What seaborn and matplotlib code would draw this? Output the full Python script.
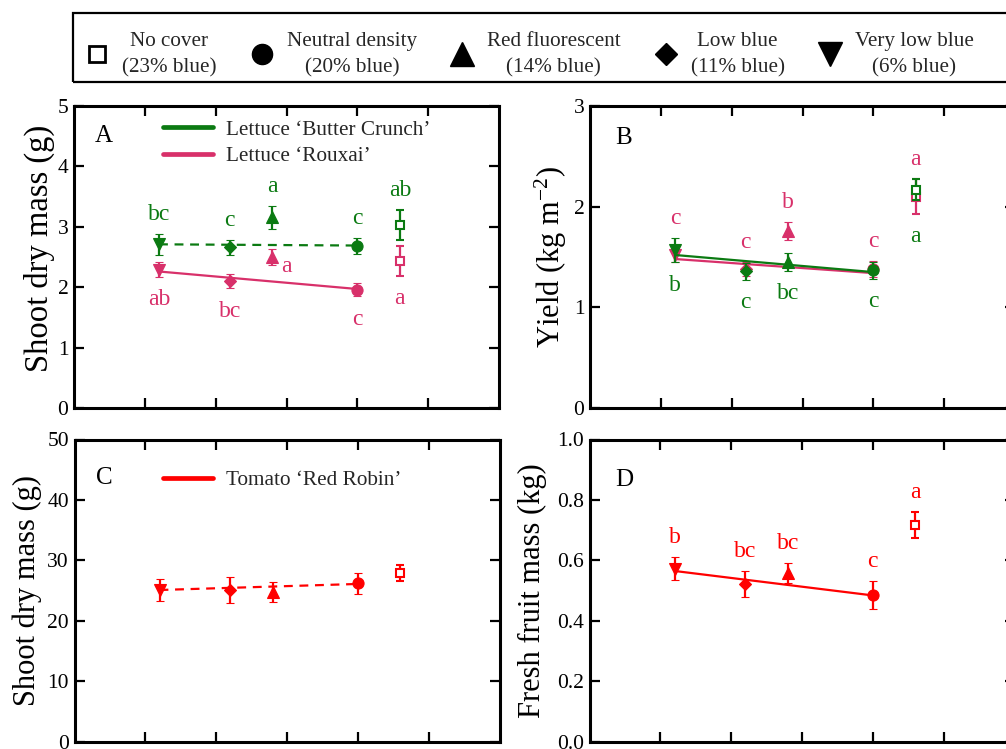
import matplotlib
matplotlib.use("Agg")
import matplotlib.pyplot as plt
from matplotlib.lines import Line2D
from matplotlib.patches import Rectangle
from matplotlib.ticker import FormatStrFormatter
import seaborn as sns

# Covers and the share of blue light they transmit (%)
treatments = ["No cover", "Neutral density", "Red fluorescent", "Low blue", "Very low blue"]
blue_share = [23, 20, 14, 11, 6]
blue_labels = ["(23% blue)", "(20% blue)", "(14% blue)", "(11% blue)", "(6% blue)"]

# A: lettuce shoot dry mass (g), mean, SE and mean-separation letters
butter_shoot = [3.03, 2.68, 3.16, 2.66, 2.71]
butter_shoot_se = [0.25, 0.13, 0.19, 0.12, 0.17]
butter_shoot_grp = ["ab", "c", "a", "c", "bc"]
rouxai_shoot = [2.44, 1.96, 2.50, 2.10, 2.29]
rouxai_shoot_se = [0.25, 0.11, 0.13, 0.12, 0.12]
rouxai_shoot_grp = ["a", "c", "a", "bc", "ab"]

# B: lettuce yield (kg m-2)
butter_yield = [2.17, 1.37, 1.45, 1.36, 1.57]
butter_yield_se = [0.105, 0.085, 0.085, 0.085, 0.12]
butter_yield_grp = ["a", "c", "bc", "c", "b"]
rouxai_yield = [2.10, 1.38, 1.76, 1.38, 1.52]
rouxai_yield_se = [0.17, 0.08, 0.09, 0.07, 0.07]
rouxai_yield_grp = ["a", "c", "b", "c", "c"]

# C: tomato shoot dry mass (g)
tomato_shoot = [27.9, 26.2, 24.8, 25.1, 25.1]
tomato_shoot_se = [1.3, 1.75, 1.7, 2.2, 1.75]

# D: tomato fresh fruit mass (kg)
tomato_fruit = [0.717, 0.485, 0.558, 0.522, 0.573]
tomato_fruit_se = [0.044, 0.047, 0.034, 0.042, 0.037]
tomato_fruit_grp = ["a", "c", "bc", "bc", "b"]

# Linear fits over the 6-20 % covers, evaluated at both ends of that span
fit_span = [6, 20]
butter_shoot_fit = [2.71, 2.69]
rouxai_shoot_fit = [2.26, 1.97]
butter_yield_fit = [1.52, 1.35]
rouxai_yield_fit = [1.48, 1.34]
tomato_shoot_fit = [25.1, 26.1]
tomato_fruit_fit = [0.565, 0.484]

# ---------------------------------------------------------------- style
sns.set_theme(style="ticks")
plt.rcParams["font.family"] = ["Liberation Serif", "DejaVu Serif"]
plt.rcParams["mathtext.fontset"] = "custom"
plt.rcParams["mathtext.rm"] = "Liberation Serif"
plt.rcParams["mathtext.it"] = "Liberation Serif:italic"

GREEN = "#0b7a12"
CRIMSON = "#d8306a"
RED = "#ff0000"

MARKER = {"No cover": "s", "Neutral density": "o", "Red fluorescent": "^",
          "Low blue": "D", "Very low blue": "v"}
MSIZE = {"No cover": 5.5, "Neutral density": 8, "Red fluorescent": 8.5,
         "Low blue": 6.2, "Very low blue": 8.5}
KEY_MSIZE = {"No cover": 11.5, "Neutral density": 14.5, "Red fluorescent": 17,
             "Low blue": 11.5, "Very low blue": 17}

W, H = 1006, 749
fig = plt.figure(figsize=(W / 100, H / 100), dpi=100)


def axes_px(left, top, right, bottom):
    return fig.add_axes([left / W, (H - bottom) / H, (right - left) / W, (bottom - top) / H])


def draw_series(ax, means, ses, color, fit, dashed, z):
    sns.lineplot(x=fit_span, y=fit, ax=ax, color=color, linewidth=1.6,
                 linestyle=(0, (4, 3)) if dashed else "-", zorder=z, legend=False)
    for name, x, m, s in zip(treatments, blue_share, means, ses):
        hollow = name == "No cover"
        ax.errorbar([x], [m], yerr=[s], fmt=MARKER[name], ms=MSIZE[name],
                    color=color, mfc="white" if hollow else color, mec=color,
                    mew=1.5 if hollow else 0.8, elinewidth=1.6, capsize=2.8,
                    capthick=1.6, zorder=z + 1)


def add_letters(ax, series):
    tops = [max(s["m"][i] + s["se"][i] for s in series) for i in range(len(blue_share))]
    lows = [min(s["m"][i] - s["se"][i] for s in series) for i in range(len(blue_share))]
    for s in series:
        for i, letter in enumerate(s["grp"]):
            side = s["side"][i]
            x = blue_share[i]
            if side == "above":
                ax.annotate(letter, (x, tops[i]), xytext=(0, 10), textcoords="offset points",
                            ha="center", va="baseline", color=s["c"], fontsize=17)
            elif side == "below":
                ax.annotate(letter, (x, lows[i]), xytext=(0, -9), textcoords="offset points",
                            ha="center", va="top", color=s["c"], fontsize=17)
            else:
                ax.annotate(letter, (x, s["m"][i]), xytext=(6, -7), textcoords="offset points",
                            ha="left", va="center", color=s["c"], fontsize=17)


def style_axes(ax, ylim, yticks, ylabel, tag, tag_xy, fmt=None, labelsize=22, labelpad=4,
               label_y=0.5):
    ax.set_xlim(0, 30)
    ax.set_xticks([5, 10, 15, 20, 25])
    ax.set_ylim(*ylim)
    ax.set_yticks(yticks)
    if fmt:
        ax.yaxis.set_major_formatter(FormatStrFormatter(fmt))
    for sp in ax.spines.values():
        sp.set_visible(True)
        sp.set_linewidth(2.2)
        sp.set_color("black")
    ax.tick_params(axis="both", which="both", direction="in", length=7, width=1.6,
                   top=True, right=True, labelsize=15.5, pad=4, colors="black")
    ax.tick_params(axis="x", labelbottom=False)
    ax.set_ylabel(ylabel, fontsize=labelsize, labelpad=labelpad, color="black")
    ax.yaxis.label.set_y(label_y)
    ax.set_xlabel("")
    ax.text(tag_xy[0], tag_xy[1], tag, transform=ax.transAxes, fontsize=18,
            ha="center", va="center", color="black")
    ax.set_facecolor("white")


ax_a = axes_px(74, 106, 499, 408)
ax_b = axes_px(590, 106, 1015, 408)
ax_c = axes_px(74.5, 439.5, 499.5, 741.7)
ax_d = axes_px(589.5, 439.5, 1014.5, 741.7)

# A
ser_a = [
    dict(m=butter_shoot, se=butter_shoot_se, c=GREEN, fit=butter_shoot_fit, dashed=True,
         grp=butter_shoot_grp, side=["above"] * 5),
    dict(m=rouxai_shoot, se=rouxai_shoot_se, c=CRIMSON, fit=rouxai_shoot_fit, dashed=False,
         grp=rouxai_shoot_grp, side=["below", "below", "right", "below", "below"]),
]
for k, s in enumerate(ser_a):
    draw_series(ax_a, s["m"], s["se"], s["c"], s["fit"], s["dashed"], 3 + 2 * k)
add_letters(ax_a, ser_a)
style_axes(ax_a, (0, 5), range(0, 6), "Shoot dry mass (g)", "A", (0.071, 0.90),
           labelsize=23.5, labelpad=2, label_y=0.53)
ax_a.legend(handles=[Line2D([0], [0], color=GREEN, lw=3.4),
                     Line2D([0], [0], color=CRIMSON, lw=3.4)],
            labels=["Lettuce \u2018Butter Crunch\u2019", "Lettuce \u2018Rouxai\u2019"],
            loc="upper left", bbox_to_anchor=(0.209, 0.954), borderaxespad=0, borderpad=0,
            frameon=False, fontsize=15.3, handlelength=2.36, handletextpad=0.6,
            labelspacing=0.3)

# B
ser_b = [
    dict(m=rouxai_yield, se=rouxai_yield_se, c=CRIMSON, fit=rouxai_yield_fit, dashed=False,
         grp=rouxai_yield_grp, side=["above"] * 5),
    dict(m=butter_yield, se=butter_yield_se, c=GREEN, fit=butter_yield_fit, dashed=False,
         grp=butter_yield_grp, side=["below"] * 5),
]
for k, s in enumerate(ser_b):
    draw_series(ax_b, s["m"], s["se"], s["c"], s["fit"], s["dashed"], 3 + 2 * k)
add_letters(ax_b, ser_b)
style_axes(ax_b, (0, 3), range(0, 4), r"Yield (kg m$^{-2}$)", "B", (0.078, 0.893),
           labelpad=3)

# C
draw_series(ax_c, tomato_shoot, tomato_shoot_se, RED, tomato_shoot_fit, True, 3)
style_axes(ax_c, (0, 50), range(0, 51, 10), "Shoot dry mass (g)", "C", (0.071, 0.874))
ax_c.legend(handles=[Line2D([0], [0], color=RED, lw=3.4)],
            labels=["Tomato \u2018Red Robin\u2019"],
            loc="upper left", bbox_to_anchor=(0.209, 0.898), borderaxespad=0, borderpad=0,
            frameon=False, fontsize=15.3, handlelength=2.36, handletextpad=0.6)

# D
ser_d = [dict(m=tomato_fruit, se=tomato_fruit_se, c=RED, fit=tomato_fruit_fit, dashed=False,
              grp=tomato_fruit_grp, side=["above"] * 5)]
draw_series(ax_d, tomato_fruit, tomato_fruit_se, RED, tomato_fruit_fit, False, 3)
add_letters(ax_d, ser_d)
style_axes(ax_d, (0, 1.0), [0, 0.2, 0.4, 0.6, 0.8, 1.0], "Fresh fruit mass (kg)", "D",
           (0.081, 0.865), fmt="%.1f", labelpad=7)

# Shared key for the cover treatments, in a plain rectangular box
key_handles = []
for name in treatments:
    hollow = name == "No cover"
    key_handles.append(Line2D([0], [0], marker=MARKER[name], linestyle="none", color="black",
                              mfc="white" if hollow else "black", mec="black",
                              mew=2 if hollow else 1, ms=KEY_MSIZE[name]))
key_labels = [f"{t}\n{b}" for t, b in zip(treatments, blue_labels)]
key_fs = 15.2
key = fig.legend(handles=key_handles, labels=key_labels, ncol=5, frameon=False,
                 loc="upper left", bbox_to_anchor=(73 / W, (H - 20) / H),
                 borderaxespad=0, borderpad=0.57, fontsize=key_fs, handlelength=1.14,
                 handletextpad=0.62, columnspacing=1.56)
for t in key.get_texts():
    t.set_multialignment("center")
    t.set_linespacing(1.5)
fig.add_artist(Rectangle((73 / W, (H - 81.7) / H), (1040 - 73) / W, 68.4 / H,
                         transform=fig.transFigure, fill=False, edgecolor="black",
                         linewidth=1.6, zorder=10))

fig.savefig("out.png", dpi=100, facecolor="white")
